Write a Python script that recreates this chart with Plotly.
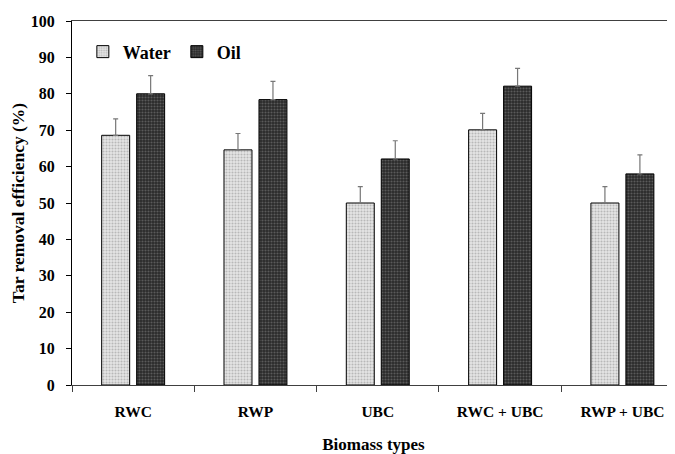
import plotly.graph_objects as go

categories = ["RWC", "RWP", "UBC", "RWC + UBC", "RWP + UBC"]
water = [68.6, 64.6, 50.0, 70.1, 50.0]
oil = [80.0, 78.4, 62.1, 82.1, 58.0]
water_err = [4.5, 4.5, 4.5, 4.5, 4.5]
oil_err = [5.0, 5.0, 5.0, 4.9, 5.2]
y_ticks = [0, 10, 20, 30, 40, 50, 60, 70, 80, 90, 100]

FONT = "Liberation Serif, Times New Roman, serif"

fig = go.Figure()
fig.add_trace(go.Bar(
    name="Water", x=categories, y=water,
    marker=dict(color="#d8d8d8", line=dict(color="#000000", width=1),
                pattern=dict(shape=".", bgcolor="#e6e6e6", fgcolor="#8a8a8a", size=3, solidity=0.4)),
    error_y=dict(type="data", array=water_err, arrayminus=[0]*5, symmetric=False,
                 color="#777777", thickness=1.2, width=2.5),
))
fig.add_trace(go.Bar(
    name="Oil", x=categories, y=oil,
    marker=dict(color="#404040", line=dict(color="#000000", width=1),
                pattern=dict(shape=".", bgcolor="#2a2a2a", fgcolor="#8a8a8a", size=3, solidity=0.4)),
    error_y=dict(type="data", array=oil_err, arrayminus=[0]*5, symmetric=False,
                 color="#777777", thickness=1.2, width=2.5),
))

fig.update_layout(
    width=667, height=446,
    margin=dict(l=64, r=0, t=13, b=69, autoexpand=False),
    paper_bgcolor="white", plot_bgcolor="white",
    barmode="group", bargap=0.428, bargroupgap=0.2,
    font=dict(family=FONT, size=15, color="#000000"),
    showlegend=True,
    legend=dict(orientation="h", x=0.018, y=0.915, xanchor="left", yanchor="middle",
                font=dict(family=FONT, size=18, color="#000000", weight="bold"),
                bgcolor="rgba(0,0,0,0)", entrywidth=49, itemwidth=30, traceorder="normal"),
    xaxis=dict(
        type="category", range=[-0.5, 4.43],
        showline=True, linecolor="#404040", linewidth=1.2, mirror=True,
        ticks="outside", tickson="boundaries", ticklen=6, tickcolor="#404040",
        tickfont=dict(family=FONT, size=15.5, weight="bold"), ticklabelstandoff=12,
        title=dict(text="<b>Biomass types</b>", font=dict(family=FONT, size=17), standoff=23),
        showgrid=False, zeroline=False,
    ),
    yaxis=dict(
        range=[0, 100], tickvals=y_ticks,
        showline=True, linecolor="#000000", linewidth=1.2,
        ticks="outside", ticklen=5, tickcolor="#000000",
        tickfont=dict(family=FONT, size=16, weight="bold"), ticklabelstandoff=8,
        title=dict(text="<b>Tar removal efficiency (%)</b>", font=dict(family=FONT, size=17.5), standoff=8),
        showgrid=False, zeroline=False,
    ),
)

fig.write_html("out.html")
